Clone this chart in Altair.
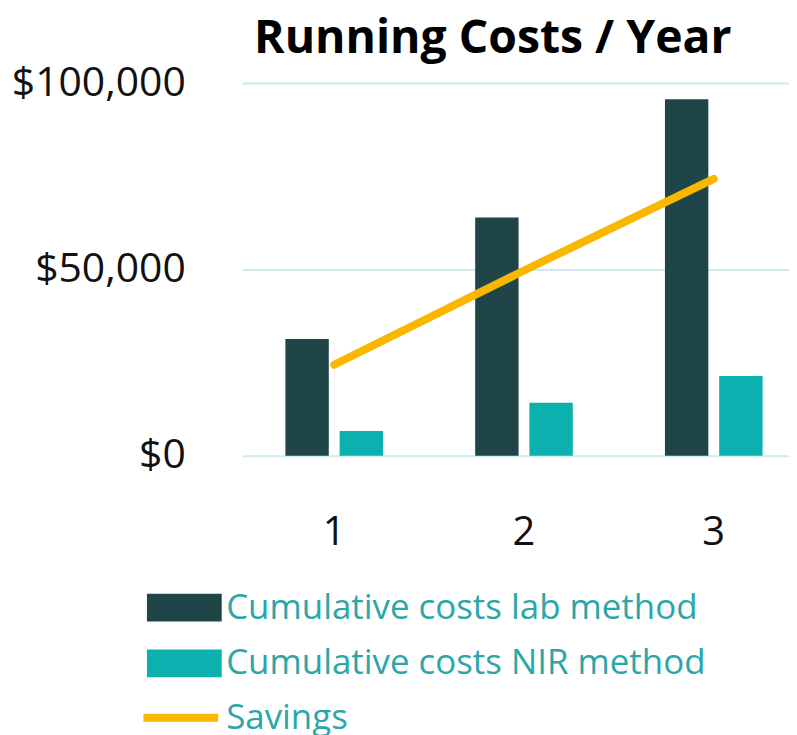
import altair as alt
import pandas as pd

years = ["1", "2", "3"]
lab_costs = [31300, 63900, 95700]
nir_costs = [6600, 14200, 21400]
savings = [24400, 49700, 74300]
series_names = ["Cumulative costs lab method", "Cumulative costs NIR method"]
savings_name = "Savings"
y_ticks = [0, 50000, 100000]

bars_df = pd.DataFrame({
    "year": years * 2,
    "series": [series_names[0]] * 3 + [series_names[1]] * 3,
    "value": lab_costs + nir_costs,
})
line_df = pd.DataFrame({"year": years, "value": savings, "label": [savings_name] * 3})

FONT = "Open Sans"
DARK = "#1f4549"
TEAL = "#0bb1ae"
GOLD = "#f9b700"
LEG = "#2ca6a8"

x_scale = alt.Scale(domain=years, paddingInner=0.4856, paddingOuter=0.1837, align=0.621)
y_scale = alt.Scale(domain=[0, 100000], nice=False)

x_axis = alt.Axis(title=None, labelAngle=0, labelFontSize=40, labelFont=FONT,
                  labelColor="#111", labelPadding=57, domain=False, ticks=False, grid=False)
y_axis = alt.Axis(title=None, values=y_ticks, format="$,.0f", labelFontSize=41, labelFont=FONT,
                  labelColor="#111", labelPadding=57, domain=False, ticks=False,
                  grid=True, gridColor="#cfe9ef", gridWidth=2)

bars = alt.Chart(bars_df).mark_bar().encode(
    x=alt.X("year:N", scale=x_scale, sort=years, axis=x_axis),
    y=alt.Y("value:Q", scale=y_scale, axis=y_axis),
    xOffset=alt.XOffset("series:N", sort=series_names,
                        scale=alt.Scale(paddingInner=0.2, paddingOuter=0)),
    fill=alt.Fill("series:N", sort=series_names,
                  scale=alt.Scale(domain=series_names, range=[DARK, TEAL]),
                  legend=alt.Legend(title=None, orient="none", legendX=-75.5, legendY=509,
                                    symbolType="M-2.68,-1H2.68V1H-2.68Z", symbolSize=784,
                                    symbolStrokeWidth=0, symbolOpacity=1,
                                    labelFont=FONT, labelFontSize=35, labelColor=LEG,
                                    labelOffset=24.5, rowPadding=20, padding=0,
                                    labelLimit=600)),
)

line = alt.Chart(line_df).mark_line(strokeWidth=8, strokeCap="round").encode(
    x=alt.X("year:N", scale=x_scale, sort=years, axis=x_axis),
    y=alt.Y("value:Q", scale=y_scale, axis=y_axis),
    stroke=alt.Stroke("label:N",
                      scale=alt.Scale(domain=[savings_name], range=[GOLD]),
                      legend=alt.Legend(title=None, orient="none", legendX=-79.5, legendY=619,
                                        symbolType="M-2.68,0H2.68", symbolSize=784,
                                        symbolStrokeWidth=8, symbolOpacity=1,
                                        labelFont=FONT, labelFontSize=35, labelColor=LEG,
                                        labelOffset=27.5, padding=0, labelLimit=600)),
)

chart = alt.layer(bars, line).resolve_scale(fill="independent", stroke="independent").properties(
    width=549,
    height=374,
    background="white",
    padding={"left": 3, "top": 6, "right": 0, "bottom": 0},
    title=alt.TitleParams("Running Costs / Year", font=FONT, fontSize=46.5, fontWeight="bold",
                          color="#000", anchor="start", frame="group", dx=12, offset=0),
).configure_view(
    stroke="transparent", strokeWidth=0
).configure_axis(
    domain=False, ticks=False
)

chart.save("out.html", embed_options={"renderer": "svg", "actions": False})
